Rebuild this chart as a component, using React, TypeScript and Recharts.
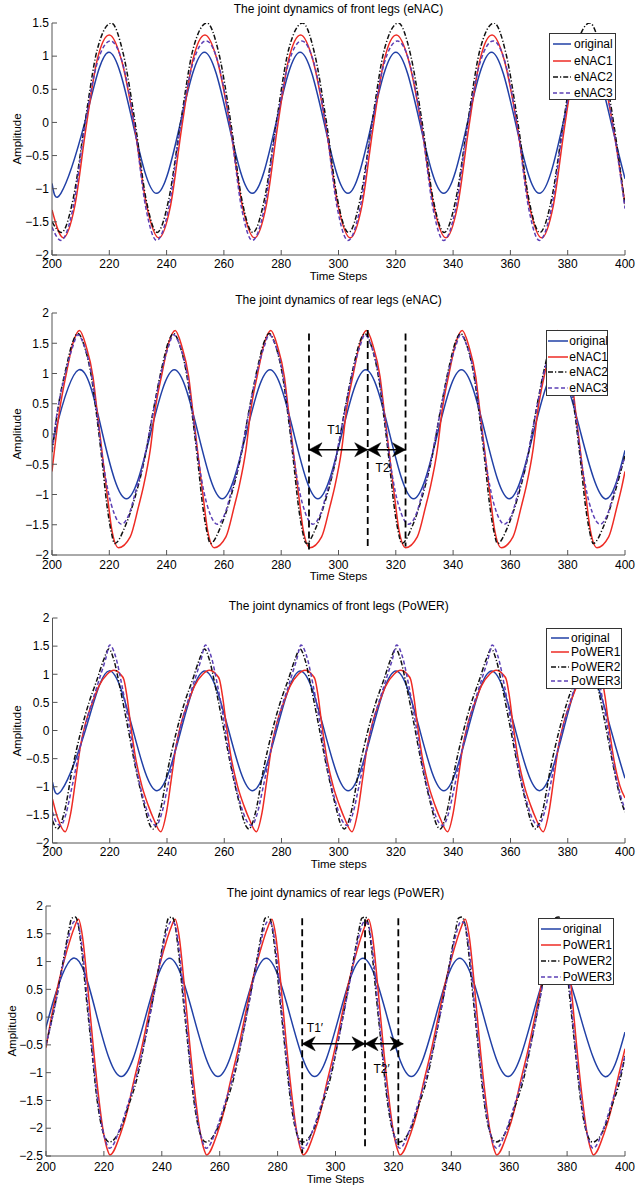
import { LineChart, Line, XAxis, YAxis, ReferenceLine, ReferenceDot } from "recharts";

type Pt = [number, number];

const FONT = '"Liberation Sans", Arial, Helvetica, sans-serif';

// time axis shared by all four panels
const timeTicks = [200, 220, 240, 260, 280, 300, 320, 340, 360, 380, 400];
const frontEnacTicks = [-2, -1.5, -1, -0.5, 0, 0.5, 1, 1.5];
const rearTicks = [-2, -1.5, -1, -0.5, 0, 0.5, 1, 1.5, 2];
const rearPowerTicks = [-2.5, -2, -1.5, -1, -0.5, 0, 0.5, 1, 1.5, 2];

// original gait signal, front legs (peaks / zero crossings / troughs)
const frontOriginal: Pt[] = [
  [200, -0.92], [203.1, -1.07], [211.45, 0], [219.8, 1.06], [228.15, 0], [236.5, -1.07],
  [244.85, 0], [253.2, 1.06], [261.55, 0], [269.9, -1.07], [278.25, 0], [286.6, 1.06],
  [294.95, 0], [303.3, -1.07], [311.65, 0], [320.0, 1.06], [328.35, 0], [336.7, -1.07],
  [345.05, 0], [353.4, 1.06], [361.75, 0], [370.1, -1.07], [378.45, 0], [386.8, 1.06],
  [395.15, 0], [400, -0.85],
];

// original gait signal, rear legs
const rearOriginal: Pt[] = [
  [200, -0.19], [200.95, 0], [209.3, 1.06], [217.65, 0], [226.0, -1.07], [234.35, 0],
  [242.7, 1.06], [251.05, 0], [259.4, -1.07], [267.75, 0], [276.1, 1.06], [284.45, 0],
  [292.8, -1.07], [301.15, 0], [309.5, 1.06], [317.85, 0], [326.2, -1.07], [334.55, 0],
  [342.9, 1.06], [351.25, 0], [359.6, -1.07], [367.95, 0], [376.3, 1.06], [384.65, 0],
  [393.0, -1.07], [400, -0.27],
];

// front legs, eNAC
const frontEnac1: Pt[] = [
  [200, -1.32], [203.9, -1.74], [208.0, -1.25], [211.8, -0.1], [215.8, 0.95], [220.0, 1.32], [224.2, 0.95], [228.6, 0], [233.0, -1.25],
  [237.3, -1.74], [241.4, -1.25], [245.2, -0.1], [249.2, 0.95], [253.4, 1.32], [257.6, 0.95], [262.0, 0], [266.4, -1.25],
  [270.7, -1.74], [274.8, -1.25], [278.6, -0.1], [282.6, 0.95], [286.8, 1.32], [291.0, 0.95], [295.4, 0], [299.8, -1.25],
  [304.1, -1.74], [308.2, -1.25], [312.0, -0.1], [316.0, 0.95], [320.2, 1.32], [324.4, 0.95], [328.8, 0], [333.2, -1.25],
  [337.5, -1.74], [341.6, -1.25], [345.4, -0.1], [349.4, 0.95], [353.6, 1.32], [357.8, 0.95], [362.2, 0], [366.6, -1.25],
  [370.9, -1.74], [375.0, -1.25], [378.8, -0.1], [382.8, 0.95], [387.0, 1.32], [391.2, 0.95], [395.6, 0], [400, -1.23],
];
const frontEnac2: Pt[] = [
  [200, -1.5], [203.3, -1.66], [207.4, -1.15], [211.5, 0], [215.8, 1.1], [220.7, 1.5], [224.8, 1.05], [229.0, 0], [232.8, -1.15],
  [236.7, -1.66], [240.8, -1.15], [244.9, 0], [249.2, 1.1], [254.1, 1.5], [258.2, 1.05], [262.4, 0], [266.2, -1.15],
  [270.1, -1.66], [274.2, -1.15], [278.3, 0], [282.6, 1.1], [287.5, 1.5], [291.6, 1.05], [295.8, 0], [299.6, -1.15],
  [303.5, -1.66], [307.6, -1.15], [311.7, 0], [316.0, 1.1], [320.9, 1.5], [325.0, 1.05], [329.2, 0], [333.0, -1.15],
  [336.9, -1.66], [341.0, -1.15], [345.1, 0], [349.4, 1.1], [354.3, 1.5], [358.4, 1.05], [362.6, 0], [366.4, -1.15],
  [370.3, -1.66], [374.4, -1.15], [378.5, 0], [382.8, 1.1], [387.7, 1.5], [391.8, 1.05], [396.0, 0], [400, -1.25],
];
const frontEnac3: Pt[] = [
  [200, -1.58], [203.1, -1.78], [207.3, -1.3], [211.5, -0.05], [215.8, 0.9], [220.4, 1.23], [224.6, 0.9], [228.8, -0.05], [232.8, -1.3],
  [236.5, -1.78], [240.7, -1.3], [244.9, -0.05], [249.2, 0.9], [253.8, 1.23], [258.0, 0.9], [262.2, -0.05], [266.2, -1.3],
  [269.9, -1.78], [274.1, -1.3], [278.3, -0.05], [282.6, 0.9], [287.2, 1.23], [291.4, 0.9], [295.6, -0.05], [299.6, -1.3],
  [303.3, -1.78], [307.5, -1.3], [311.7, -0.05], [316.0, 0.9], [320.6, 1.23], [324.8, 0.9], [329.0, -0.05], [333.0, -1.3],
  [336.7, -1.78], [340.9, -1.3], [345.1, -0.05], [349.4, 0.9], [354.0, 1.23], [358.2, 0.9], [362.4, -0.05], [366.4, -1.3],
  [370.1, -1.78], [374.3, -1.3], [378.5, -0.05], [382.8, 0.9], [387.4, 1.23], [391.6, 0.9], [395.8, -0.05], [400, -1.3],
];

// rear legs, eNAC
const rearEnac1: Pt[] = [
  [200, -0.62], [202.6, 0.38], [205.0, 1.0], [207.3, 1.5], [209.6, 1.71], [211.9, 1.45], [214.3, 0.95], [215.7, 0.4], [217.8, -0.43], [219.5, -1.09], [220.9, -1.59], [223.2, -1.88],
  [227.3, -1.7], [230.2, -1.2], [231.9, -0.87], [234.3, -0.26], [236.0, 0.4], [238.4, 1.0], [240.7, 1.5], [243.0, 1.71], [245.3, 1.45], [247.7, 0.95], [249.1, 0.4], [251.2, -0.43], [252.9, -1.09], [254.3, -1.59], [256.6, -1.88],
  [260.7, -1.7], [263.6, -1.2], [265.3, -0.87], [267.7, -0.26], [269.4, 0.4], [271.8, 1.0], [274.1, 1.5], [276.4, 1.71], [278.7, 1.45], [281.1, 0.95], [282.5, 0.4], [284.6, -0.43], [286.3, -1.09], [287.7, -1.59], [290.0, -1.88],
  [294.1, -1.7], [297.0, -1.2], [298.7, -0.87], [301.1, -0.26], [302.8, 0.4], [305.2, 1.0], [307.5, 1.5], [309.8, 1.71], [312.1, 1.45], [314.5, 0.95], [315.9, 0.4], [318.0, -0.43], [319.7, -1.09], [321.1, -1.59], [323.4, -1.88],
  [327.5, -1.7], [330.4, -1.2], [332.1, -0.87], [334.5, -0.26], [336.2, 0.4], [338.6, 1.0], [340.9, 1.5], [343.2, 1.71], [345.5, 1.45], [347.9, 0.95], [349.3, 0.4], [351.4, -0.43], [353.1, -1.09], [354.5, -1.59], [356.8, -1.88],
  [360.9, -1.7], [363.8, -1.2], [365.5, -0.87], [367.9, -0.26], [369.6, 0.4], [372.0, 1.0], [374.3, 1.5], [376.6, 1.71], [378.9, 1.45], [381.3, 0.95], [382.7, 0.4], [384.8, -0.43], [386.5, -1.09], [387.9, -1.59], [390.2, -1.88],
  [394.3, -1.7], [397.2, -1.2], [398.9, -0.87], [400, -0.62],
];
const rearEnac2: Pt[] = [
  [200, -0.3], [202.0, 0.4], [205.0, 1.11], [207.3, 1.53], [209.0, 1.66], [211.3, 1.45], [213.9, 0.9], [215.6, 0.3], [217.6, -0.5], [219.1, -1.15], [220.6, -1.6], [221.9, -1.81],
  [225.5, -1.53], [229.0, -1.04], [232.5, -0.37], [235.4, 0.4], [238.4, 1.11], [240.7, 1.53], [242.4, 1.66], [244.7, 1.45], [247.3, 0.9], [249.0, 0.3], [251.0, -0.5], [252.5, -1.15], [254.0, -1.6], [255.3, -1.81],
  [258.9, -1.53], [262.4, -1.04], [265.9, -0.37], [268.8, 0.4], [271.8, 1.11], [274.1, 1.53], [275.8, 1.66], [278.1, 1.45], [280.7, 0.9], [282.4, 0.3], [284.4, -0.5], [285.9, -1.15], [287.4, -1.6], [288.7, -1.81],
  [292.3, -1.53], [295.8, -1.04], [299.3, -0.37], [302.2, 0.4], [305.2, 1.11], [307.5, 1.53], [309.2, 1.66], [311.5, 1.45], [314.1, 0.9], [315.8, 0.3], [317.8, -0.5], [319.3, -1.15], [320.8, -1.6], [322.1, -1.81],
  [325.7, -1.53], [329.2, -1.04], [332.7, -0.37], [335.6, 0.4], [338.6, 1.11], [340.9, 1.53], [342.6, 1.66], [344.9, 1.45], [347.5, 0.9], [349.2, 0.3], [351.2, -0.5], [352.7, -1.15], [354.2, -1.6], [355.5, -1.81],
  [359.1, -1.53], [362.6, -1.04], [366.1, -0.37], [369.0, 0.4], [372.0, 1.11], [374.3, 1.53], [376.0, 1.66], [378.3, 1.45], [380.9, 0.9], [382.6, 0.3], [384.6, -0.5], [386.1, -1.15], [387.6, -1.6], [388.9, -1.81],
  [392.5, -1.53], [396.0, -1.04], [400, -0.35],
];
const rearEnac3: Pt[] = [
  [200, -0.27], [201.4, 0.23], [204.4, 0.95], [207.3, 1.45], [209.0, 1.64], [211.3, 1.45], [213.9, 0.95], [215.8, 0.3], [217.8, -0.45], [219.6, -0.95], [221.6, -1.3], [224.3, -1.49],
  [227.1, -1.3], [229.2, -0.95], [231.3, -0.6], [234.8, 0.23], [237.8, 0.95], [240.7, 1.45], [242.4, 1.64], [244.7, 1.45], [247.3, 0.95], [249.2, 0.3], [251.2, -0.45], [253.0, -0.95], [255.0, -1.3], [257.7, -1.49],
  [260.5, -1.3], [262.6, -0.95], [264.7, -0.6], [268.2, 0.23], [271.2, 0.95], [274.1, 1.45], [275.8, 1.64], [278.1, 1.45], [280.7, 0.95], [282.6, 0.3], [284.6, -0.45], [286.4, -0.95], [288.4, -1.3], [291.1, -1.49],
  [293.9, -1.3], [296.0, -0.95], [298.1, -0.6], [301.6, 0.23], [304.6, 0.95], [307.5, 1.45], [309.2, 1.64], [311.5, 1.45], [314.1, 0.95], [316.0, 0.3], [318.0, -0.45], [319.8, -0.95], [321.8, -1.3], [324.5, -1.49],
  [327.3, -1.3], [329.4, -0.95], [331.5, -0.6], [335.0, 0.23], [338.0, 0.95], [340.9, 1.45], [342.6, 1.64], [344.9, 1.45], [347.5, 0.95], [349.4, 0.3], [351.4, -0.45], [353.2, -0.95], [355.2, -1.3], [357.9, -1.49],
  [360.7, -1.3], [362.8, -0.95], [364.9, -0.6], [368.4, 0.23], [371.4, 0.95], [374.3, 1.45], [376.0, 1.64], [378.3, 1.45], [380.9, 0.95], [382.8, 0.3], [384.8, -0.45], [386.6, -0.95], [388.6, -1.3], [391.3, -1.49],
  [394.1, -1.3], [396.2, -0.95], [398.3, -0.6], [400, -0.38],
];

// front legs, PoWER
const frontPower1: Pt[] = [
  [200, -1.22], [201.9, -1.57], [204.4, -1.8],
  [206.4, -1.46], [208.1, -0.87], [209.8, -0.27], [211.6, 0.14], [213.9, 0.49], [216.2, 0.79], [219.1, 1.0], [221.4, 1.07], [223.7, 1.0], [224.9, 0.91], [226.0, 0.61], [227.2, 0.14], [228.9, -0.45], [231.2, -0.98], [233.5, -1.34], [235.3, -1.57], [237.8, -1.8],
  [239.8, -1.46], [241.5, -0.87], [243.2, -0.27], [245.0, 0.14], [247.3, 0.49], [249.6, 0.79], [252.5, 1.0], [254.8, 1.07], [257.1, 1.0], [258.3, 0.91], [259.4, 0.61], [260.6, 0.14], [262.3, -0.45], [264.6, -0.98], [266.9, -1.34], [268.7, -1.57], [271.2, -1.8],
  [273.2, -1.46], [274.9, -0.87], [276.6, -0.27], [278.4, 0.14], [280.7, 0.49], [283.0, 0.79], [285.9, 1.0], [288.2, 1.07], [290.5, 1.0], [291.7, 0.91], [292.8, 0.61], [294.0, 0.14], [295.7, -0.45], [298.0, -0.98], [300.3, -1.34], [302.1, -1.57], [304.6, -1.8],
  [306.6, -1.46], [308.3, -0.87], [310.0, -0.27], [311.8, 0.14], [314.1, 0.49], [316.4, 0.79], [319.3, 1.0], [321.6, 1.07], [323.9, 1.0], [325.1, 0.91], [326.2, 0.61], [327.4, 0.14], [329.1, -0.45], [331.4, -0.98], [333.7, -1.34], [335.5, -1.57], [338.0, -1.8],
  [340.0, -1.46], [341.7, -0.87], [343.4, -0.27], [345.2, 0.14], [347.5, 0.49], [349.8, 0.79], [352.7, 1.0], [355.0, 1.07], [357.3, 1.0], [358.5, 0.91], [359.6, 0.61], [360.8, 0.14], [362.5, -0.45], [364.8, -0.98], [367.1, -1.34], [368.9, -1.57], [371.4, -1.8],
  [373.4, -1.46], [375.1, -0.87], [376.8, -0.27], [378.6, 0.14], [380.9, 0.49], [383.2, 0.79], [386.1, 1.0], [388.4, 1.07], [390.7, 1.0], [391.9, 0.91], [393.0, 0.61], [394.2, 0.14], [395.9, -0.45], [398.2, -0.98], [400, -1.2],
];
const frontPower2: Pt[] = [
  [200, -1.6], [201.7, -1.75],
  [204.1, -1.46], [206.9, -0.69], [209.8, -0.04], [212.7, 0.49], [215.6, 0.91], [217.9, 1.26], [219.7, 1.45], [221.4, 1.26], [223.7, 0.73], [226.0, 0.14], [228.9, -0.63], [231.8, -1.28], [234.1, -1.69], [235.2, -1.75],
  [237.5, -1.46], [240.3, -0.69], [243.2, -0.04], [246.1, 0.49], [249.0, 0.91], [251.3, 1.26], [253.1, 1.45], [254.8, 1.26], [257.1, 0.73], [259.4, 0.14], [262.3, -0.63], [265.2, -1.28], [267.5, -1.69], [268.6, -1.75],
  [270.9, -1.46], [273.7, -0.69], [276.6, -0.04], [279.5, 0.49], [282.4, 0.91], [284.7, 1.26], [286.5, 1.45], [288.2, 1.26], [290.5, 0.73], [292.8, 0.14], [295.7, -0.63], [298.6, -1.28], [300.9, -1.69], [302.0, -1.75],
  [304.3, -1.46], [307.1, -0.69], [310.0, -0.04], [312.9, 0.49], [315.8, 0.91], [318.1, 1.26], [319.9, 1.45], [321.6, 1.26], [323.9, 0.73], [326.2, 0.14], [329.1, -0.63], [332.0, -1.28], [334.3, -1.69], [335.4, -1.75],
  [337.7, -1.46], [340.5, -0.69], [343.4, -0.04], [346.3, 0.49], [349.2, 0.91], [351.5, 1.26], [353.3, 1.45], [355.0, 1.26], [357.3, 0.73], [359.6, 0.14], [362.5, -0.63], [365.4, -1.28], [367.7, -1.69], [368.8, -1.75],
  [371.1, -1.46], [373.9, -0.69], [376.8, -0.04], [379.7, 0.49], [382.6, 0.91], [384.9, 1.26], [386.7, 1.45], [388.4, 1.26], [390.7, 0.73], [393.0, 0.14], [395.9, -0.63], [398.8, -1.28], [400, -1.45],
];
const frontPower3: Pt[] = [
  [200, -1.45], [201.3, -1.63], [202.8, -1.69],
  [204.6, -1.5], [206.9, -0.98], [209.8, -0.27], [212.7, 0.32], [215.6, 0.79], [218.5, 1.26], [220.0, 1.52], [222.0, 1.32], [224.3, 0.79], [226.6, 0.14], [228.9, -0.57], [231.8, -1.22], [234.7, -1.63], [236.2, -1.69],
  [238.0, -1.5], [240.3, -0.98], [243.2, -0.27], [246.1, 0.32], [249.0, 0.79], [251.9, 1.26], [253.4, 1.52], [255.4, 1.32], [257.7, 0.79], [260.0, 0.14], [262.3, -0.57], [265.2, -1.22], [268.1, -1.63], [269.6, -1.69],
  [271.4, -1.5], [273.7, -0.98], [276.6, -0.27], [279.5, 0.32], [282.4, 0.79], [285.3, 1.26], [286.8, 1.52], [288.8, 1.32], [291.1, 0.79], [293.4, 0.14], [295.7, -0.57], [298.6, -1.22], [301.5, -1.63], [303.0, -1.69],
  [304.8, -1.5], [307.1, -0.98], [310.0, -0.27], [312.9, 0.32], [315.8, 0.79], [318.7, 1.26], [320.2, 1.52], [322.2, 1.32], [324.5, 0.79], [326.8, 0.14], [329.1, -0.57], [332.0, -1.22], [334.9, -1.63], [336.4, -1.69],
  [338.2, -1.5], [340.5, -0.98], [343.4, -0.27], [346.3, 0.32], [349.2, 0.79], [352.1, 1.26], [353.6, 1.52], [355.6, 1.32], [357.9, 0.79], [360.2, 0.14], [362.5, -0.57], [365.4, -1.22], [368.3, -1.63], [369.8, -1.69],
  [371.6, -1.5], [373.9, -0.98], [376.8, -0.27], [379.7, 0.32], [382.6, 0.79], [385.5, 1.26], [387.0, 1.52], [389.0, 1.32], [391.3, 0.79], [393.6, 0.14], [395.9, -0.57], [398.8, -1.22], [400, -1.4],
];

// rear legs, PoWER
const rearPower1: Pt[] = [
  [200, -0.55], [201.9, 0.01], [204.3, 0.61], [207.3, 1.21], [209.7, 1.6], [211.2, 1.76], [212.6, 1.45], [214.3, 0.61], [216.1, -0.41], [217.9, -1.31], [219.7, -2.03], [221.0, -2.35], [222.1, -2.48],
  [225.8, -2.09], [228.2, -1.67], [229.9, -1.25], [232.9, -0.59], [235.3, 0.01], [237.7, 0.61], [240.7, 1.21], [243.1, 1.6], [244.6, 1.76], [246.0, 1.45], [247.7, 0.61], [249.5, -0.41], [251.3, -1.31], [253.1, -2.03], [254.4, -2.35], [255.5, -2.48],
  [259.2, -2.09], [261.6, -1.67], [263.3, -1.25], [266.3, -0.59], [268.7, 0.01], [271.1, 0.61], [274.1, 1.21], [276.5, 1.6], [278.0, 1.76], [279.4, 1.45], [281.1, 0.61], [282.9, -0.41], [284.7, -1.31], [286.5, -2.03], [287.8, -2.35], [288.9, -2.48],
  [292.6, -2.09], [295.0, -1.67], [296.7, -1.25], [299.7, -0.59], [302.1, 0.01], [304.5, 0.61], [307.5, 1.21], [309.9, 1.6], [311.4, 1.76], [312.8, 1.45], [314.5, 0.61], [316.3, -0.41], [318.1, -1.31], [319.9, -2.03], [321.2, -2.35], [322.3, -2.48],
  [326.0, -2.09], [328.4, -1.67], [330.1, -1.25], [333.1, -0.59], [335.5, 0.01], [337.9, 0.61], [340.9, 1.21], [343.3, 1.6], [344.8, 1.76], [346.2, 1.45], [347.9, 0.61], [349.7, -0.41], [351.5, -1.31], [353.3, -2.03], [354.6, -2.35], [355.7, -2.48],
  [359.4, -2.09], [361.8, -1.67], [363.5, -1.25], [366.5, -0.59], [368.9, 0.01], [371.3, 0.61], [374.3, 1.21], [376.7, 1.6], [378.2, 1.76], [379.6, 1.45], [381.3, 0.61], [383.1, -0.41], [384.9, -1.31], [386.7, -2.03], [388.0, -2.35], [389.1, -2.48],
  [392.8, -2.09], [395.2, -1.67], [396.9, -1.25], [400, -0.57],
];
const rearPower2: Pt[] = [
  [200, -0.5], [203.7, 0.37], [206.0, 1.03], [207.7, 1.51], [208.9, 1.78], [210.1, 1.8], [211.0, 1.7], [212.3, 1.21], [214.0, 0.31], [215.8, -0.59], [217.5, -1.43], [219.8, -2.09], [221.8, -2.25],
  [225.6, -2.03], [228.4, -1.61], [231.3, -1.13], [234.2, -0.41], [237.1, 0.37], [239.4, 1.03], [241.1, 1.51], [242.3, 1.78], [243.5, 1.8], [244.4, 1.7], [245.7, 1.21], [247.4, 0.31], [249.2, -0.59], [250.9, -1.43], [253.2, -2.09], [255.2, -2.25],
  [259.0, -2.03], [261.8, -1.61], [264.7, -1.13], [267.6, -0.41], [270.5, 0.37], [272.8, 1.03], [274.5, 1.51], [275.7, 1.78], [276.9, 1.8], [277.8, 1.7], [279.1, 1.21], [280.8, 0.31], [282.6, -0.59], [284.3, -1.43], [286.6, -2.09], [288.6, -2.25],
  [292.4, -2.03], [295.2, -1.61], [298.1, -1.13], [301.0, -0.41], [303.9, 0.37], [306.2, 1.03], [307.9, 1.51], [309.1, 1.78], [310.3, 1.8], [311.2, 1.7], [312.5, 1.21], [314.2, 0.31], [316.0, -0.59], [317.7, -1.43], [320.0, -2.09], [322.0, -2.25],
  [325.8, -2.03], [328.6, -1.61], [331.5, -1.13], [334.4, -0.41], [337.3, 0.37], [339.6, 1.03], [341.3, 1.51], [342.5, 1.78], [343.7, 1.8], [344.6, 1.7], [345.9, 1.21], [347.6, 0.31], [349.4, -0.59], [351.1, -1.43], [353.4, -2.09], [355.4, -2.25],
  [359.2, -2.03], [362.0, -1.61], [364.9, -1.13], [367.8, -0.41], [370.7, 0.37], [373.0, 1.03], [374.7, 1.51], [375.9, 1.78], [377.1, 1.8], [378.0, 1.7], [379.3, 1.21], [381.0, 0.31], [382.8, -0.59], [384.5, -1.43], [386.8, -2.09], [388.8, -2.25],
  [392.6, -2.03], [395.4, -1.61], [398.3, -1.13], [400, -0.7],
];
const rearPower3: Pt[] = [
  [200, -0.5], [203.7, 0.35], [206.0, 0.98], [207.7, 1.42], [209.8, 1.72], [211.0, 1.68], [212.5, 1.25], [214.2, 0.35], [216.0, -0.6], [217.8, -1.45], [220.0, -2.12], [222.0, -2.36],
  [225.6, -2.0], [228.4, -1.55], [231.3, -1.05], [234.2, -0.4], [237.1, 0.35], [239.4, 0.98], [241.1, 1.42], [243.2, 1.72], [244.4, 1.68], [245.9, 1.25], [247.6, 0.35], [249.4, -0.6], [251.2, -1.45], [253.4, -2.12], [255.4, -2.36],
  [259.0, -2.0], [261.8, -1.55], [264.7, -1.05], [267.6, -0.4], [270.5, 0.35], [272.8, 0.98], [274.5, 1.42], [276.6, 1.72], [277.8, 1.68], [279.3, 1.25], [281.0, 0.35], [282.8, -0.6], [284.6, -1.45], [286.8, -2.12], [288.8, -2.36],
  [292.4, -2.0], [295.2, -1.55], [298.1, -1.05], [301.0, -0.4], [303.9, 0.35], [306.2, 0.98], [307.9, 1.42], [310.0, 1.72], [311.2, 1.68], [312.7, 1.25], [314.4, 0.35], [316.2, -0.6], [318.0, -1.45], [320.2, -2.12], [322.2, -2.36],
  [325.8, -2.0], [328.6, -1.55], [331.5, -1.05], [334.4, -0.4], [337.3, 0.35], [339.6, 0.98], [341.3, 1.42], [343.4, 1.72], [344.6, 1.68], [346.1, 1.25], [347.8, 0.35], [349.6, -0.6], [351.4, -1.45], [353.6, -2.12], [355.6, -2.36],
  [359.2, -2.0], [362.0, -1.55], [364.9, -1.05], [367.8, -0.4], [370.7, 0.35], [373.0, 0.98], [374.7, 1.42], [376.8, 1.72], [378.0, 1.68], [379.5, 1.25], [381.2, 0.35], [383.0, -0.6], [384.8, -1.45], [387.0, -2.12], [389.0, -2.36],
  [392.6, -2.0], [395.4, -1.55], [398.3, -1.05], [400, -0.7],
];

// period markers: [time, top, bottom]
const rearEnacGuides: [number, number, number][] = [[289.7, 1.66, -1.92], [310.2, 1.72, -1.86], [323.4, 1.66, -1.86]];
const rearEnacArrows: [number, number, number][] = [[289.7, 310.2, -0.26], [310.2, 323.4, -0.26]];
const rearEnacNotes: [number, number, string][] = [[298.5, 0.07, "T1"], [315.4, -0.56, "T2"]];
const rearPowerGuides: [number, number, number][] = [[288.5, 1.78, -2.45], [310.2, 1.76, -2.36], [321.7, 1.78, -2.36]];
const rearPowerArrows: [number, number, number][] = [[288.5, 310.2, -0.48], [310.2, 323.4, -0.48]];
const rearPowerNotes: [number, number, string][] = [[292.9, -0.2, "T1\u2032"], [315.9, -0.93, "T2\u2032"]];

const STYLE = {
  original: { color: "#2140a6", dash: undefined, type: "natural" },
  one: { color: "#ee2b24", dash: undefined, type: "monotone" },
  two: { color: "#111111", dash: "5 2 1.2 2", type: "monotone" },
  three: { color: "#5b3fb5", dash: "4 2.5", type: "monotone" },
};

const toRows = (a: Pt[]) => a.map(([t, v]) => ({ t, v }));
const fmt = (v: number) => String(v).replace("-", "\u2212");

const panels = [
  {
    title: "The joint dynamics of front legs (eNAC)", xLabel: "Time Steps",
    top: 23, bottom: 255, left: 52, titleY: 9, xLabelY: 275.5, yLabelX: 17, xGap: 9,
    domain: [-2, 1.5], yTicks: frontEnacTicks,
    series: [["original", frontOriginal, STYLE.original], ["eNAC1", frontEnac1, STYLE.one], ["eNAC2", frontEnac2, STYLE.two], ["eNAC3", frontEnac3, STYLE.three]],
    legend: { x: 549, y: 33, w: 67, h: 67, first: 10.3, gap: 16.3, lx: 2.5, lw: 18.5, tx: 24 },
  },
  {
    title: "The joint dynamics of rear legs (eNAC)", xLabel: "Time Steps",
    top: 313, bottom: 555, left: 52, titleY: 300, xLabelY: 576, yLabelX: 17, xGap: 10,
    domain: [-2, 2], yTicks: rearTicks,
    series: [["original", rearOriginal, STYLE.original], ["eNAC1", rearEnac1, STYLE.one], ["eNAC2", rearEnac2, STYLE.two], ["eNAC3", rearEnac3, STYLE.three]],
    legend: { x: 546, y: 330, w: 62, h: 66, first: 10, gap: 15.6, lx: 1, lw: 20, tx: 22.3 },
    guides: rearEnacGuides, arrows: rearEnacArrows, notes: rearEnacNotes,
  },
  {
    title: "The joint dynamics of front legs (PoWER)", xLabel: "Time steps",
    top: 618, bottom: 843, left: 52.5, titleY: 606, xLabelY: 864, yLabelX: 17, xGap: 9,
    domain: [-2, 2], yTicks: rearTicks,
    series: [["original", frontOriginal, STYLE.original], ["PoWER1", frontPower1, STYLE.one], ["PoWER2", frontPower2, STYLE.two], ["PoWER3", frontPower3, STYLE.three]],
    legend: { x: 546, y: 628, w: 76, h: 61, first: 8.7, gap: 14.4, lx: 4, lw: 18, tx: 24 },
  },
  {
    title: "The joint dynamics of rear legs (PoWER)", xLabel: "Time Steps",
    top: 906, bottom: 1156, left: 46, titleY: 893, xLabelY: 1179, yLabelX: 11.5, xGap: 11,
    domain: [-2.5, 2], yTicks: rearPowerTicks,
    series: [["original", rearOriginal, STYLE.original], ["PoWER1", rearPower1, STYLE.one], ["PoWER2", rearPower2, STYLE.two], ["PoWER3", rearPower3, STYLE.three]],
    legend: { x: 538, y: 918, w: 76, h: 67, first: 10, gap: 16.1, lx: 2, lw: 20, tx: 23.7 },
    guides: rearPowerGuides, arrows: rearPowerArrows, notes: rearPowerNotes,
  },
];

const FRAME = "#555";
const RIGHT = 625;

const head = (dir: number) => (p: any) => {
  const { cx, cy } = p;
  const d = `M${cx},${cy} L${cx - dir * 13},${cy - 7} L${cx - dir * 9},${cy} L${cx - dir * 13},${cy + 7} Z`;
  return <path d={d} fill="#000" stroke="#000" strokeWidth={0.5} />;
};

const note = (text: string) => (p: any) => (
  <text x={p.cx} y={p.cy} textAnchor="middle" dominantBaseline="central" fontSize={12} fontFamily={FONT} fill="#000">
    {text}
  </text>
);

function Panel({ cfg }: { cfg: any }) {
  const h = cfg.bottom - cfg.top;
  const tickStyle = { fill: "#000", fontSize: 12, fontFamily: FONT };
  return (
    <>
      <div style={{ position: "absolute", left: 0, top: cfg.top - 10 }}>
        <LineChart width={640} height={h + 40} margin={{ top: 10, right: 640 - RIGHT, bottom: 0, left: 0 }}>
          <XAxis xAxisId="b" dataKey="t" type="number" domain={[200, 400]} ticks={timeTicks} interval={0}
            allowDataOverflow height={30} tickSize={-5} tickMargin={cfg.xGap} stroke={FRAME} tick={tickStyle} />
          <XAxis xAxisId="t" orientation="top" dataKey="t" type="number" domain={[200, 400]} ticks={timeTicks}
            interval={0} allowDataOverflow height={0} tickSize={-5} tick={false} stroke={FRAME} />
          <YAxis yAxisId="l" type="number" domain={cfg.domain} ticks={cfg.yTicks} interval={0} allowDataOverflow
            width={cfg.left} tickSize={-5} tickMargin={8} tickFormatter={fmt} stroke={FRAME} tick={tickStyle} />
          <YAxis yAxisId="r" orientation="right" type="number" domain={cfg.domain} ticks={cfg.yTicks} interval={0}
            allowDataOverflow width={0} tickSize={-5} tick={false} stroke={FRAME} />
          {cfg.series.map(([name, data, st]: any) => (
            <Line key={name} xAxisId="b" yAxisId="l" data={toRows(data)} dataKey="v" name={name} type={st.type}
              stroke={st.color} strokeWidth={1.5} strokeDasharray={st.dash} dot={false} activeDot={false}
              isAnimationActive={false} />
          ))}
          {(cfg.guides || []).map(([t, y1, y2]: number[], i: number) => (
            <ReferenceLine key={"g" + i} xAxisId="b" yAxisId="l" segment={[{ x: t, y: y1 }, { x: t, y: y2 }]}
              stroke="#000" strokeWidth={1.8} strokeDasharray="7 4" />
          ))}
          {(cfg.arrows || []).map(([a, b, y]: number[], i: number) => (
            <ReferenceLine key={"a" + i} xAxisId="b" yAxisId="l" segment={[{ x: a, y }, { x: b, y }]}
              stroke="#000" strokeWidth={1.6} />
          ))}
          {(cfg.arrows || []).map(([a, , y]: number[], i: number) => (
            <ReferenceDot key={"hl" + i} xAxisId="b" yAxisId="l" x={a} y={y} r={1} shape={head(-1)} />
          ))}
          {(cfg.arrows || []).map(([, b, y]: number[], i: number) => (
            <ReferenceDot key={"hr" + i} xAxisId="b" yAxisId="l" x={b} y={y} r={1} shape={head(1)} />
          ))}
          {(cfg.notes || []).map(([t, v, text]: any, i: number) => (
            <ReferenceDot key={"n" + i} xAxisId="b" yAxisId="l" x={t} y={v} r={1} shape={note(text)} />
          ))}
        </LineChart>
      </div>
      <div style={{ position: "absolute", left: cfg.left, width: RIGHT - cfg.left, top: cfg.titleY - 7, lineHeight: "14px", fontSize: 12, textAlign: "center" }}>
        {cfg.title}
      </div>
      <div style={{ position: "absolute", left: cfg.left, width: RIGHT - cfg.left, top: cfg.xLabelY - 7, lineHeight: "14px", fontSize: 11.5, textAlign: "center" }}>
        {cfg.xLabel}
      </div>
      <div style={{ position: "absolute", left: cfg.yLabelX, top: (cfg.top + cfg.bottom) / 2, transform: "translate(-50%, -50%) rotate(-90deg)", fontSize: 11.5, lineHeight: "14px", whiteSpace: "nowrap" }}>
        Amplitude
      </div>
      <div style={{ position: "absolute", left: cfg.legend.x, top: cfg.legend.y, width: cfg.legend.w, height: cfg.legend.h, border: "1px solid #333", background: "#fff", boxSizing: "border-box" }}>
        {cfg.series.map(([name, , st]: any, i: number) => {
          const cy = cfg.legend.first + i * cfg.legend.gap;
          return (
            <div key={name}>
              <svg style={{ position: "absolute", left: cfg.legend.lx, top: cy - 3 }} width={cfg.legend.lw} height={6}>
                <line x1={0} y1={3} x2={cfg.legend.lw} y2={3} stroke={st.color} strokeWidth={1.5} strokeDasharray={st.dash} />
              </svg>
              <div style={{ position: "absolute", left: cfg.legend.tx, top: cy - 7, lineHeight: "14px", fontSize: 12, whiteSpace: "nowrap" }}>
                {name}
              </div>
            </div>
          );
        })}
      </div>
    </>
  );
}

export default function App() {
  return (
    <div style={{ position: "absolute", left: 0, top: 0, width: 640, height: 1190, background: "#fff", fontFamily: FONT, color: "#000", overflow: "hidden" }}>
      {panels.map((cfg) => (
        <Panel key={cfg.title} cfg={cfg} />
      ))}
    </div>
  );
}
